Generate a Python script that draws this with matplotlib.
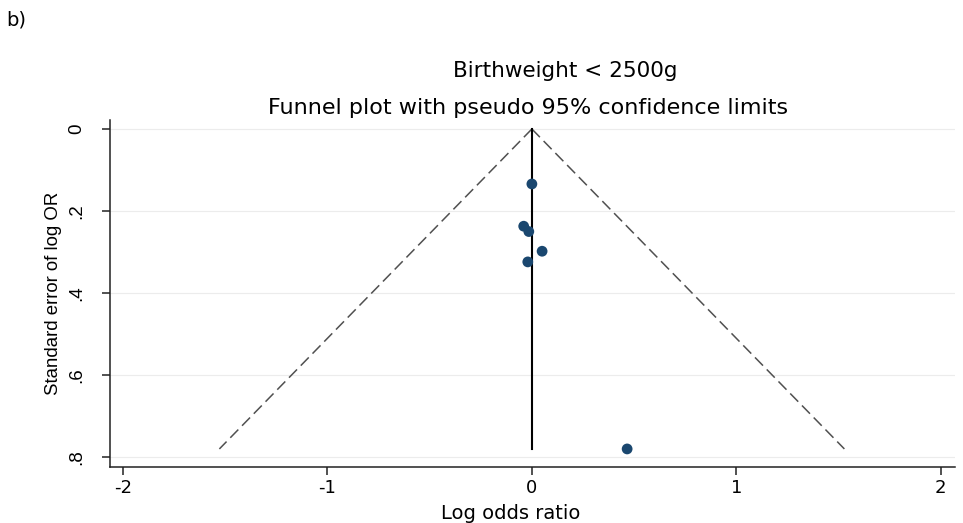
import matplotlib
matplotlib.use("Agg")
import matplotlib.pyplot as plt
import numpy as np

plt.rcParams['font.family'] = ['Liberation Sans', 'DejaVu Sans']

# Data
log_or = [0.0, -0.04, -0.015, 0.05, -0.02, 0.466]
se_log_or = [0.134, 0.237, 0.250, 0.298, 0.324, 0.78]
x_ticks = [-2, -1, 0, 1, 2]
x_tick_labels = ["-2", "-1", "0", "1", "2"]
y_ticks = [0, 0.2, 0.4, 0.6, 0.8]
y_tick_labels = ["0", ".2", ".4", ".6", ".8"]
pooled = 0.0
z95 = 1.96

wide = ['DejaVu Sans']

fig = plt.figure(figsize=(9.63, 5.23), dpi=100)
ax = fig.add_axes([0.1142, 0.1071, 0.8775, 0.6635])

se_max = max(se_log_or)
se_line = np.array([0.0, se_max])
ax.plot(pooled - z95 * se_line, se_line, linestyle=(0, (7.5, 3.5)), color='#505050', lw=1.1)
ax.plot(pooled + z95 * se_line, se_line, linestyle=(0, (7.5, 3.5)), color='#505050', lw=1.1)
ax.plot([pooled, pooled], [0, se_max], color='black', lw=1.5)

ax.scatter(log_or, se_log_or, s=60, color='#1a476f', zorder=3, edgecolors='none')

ax.set_xlim(-2.064, 2.07)
ax.set_ylim(0.824, -0.022)
ax.set_xticks(x_ticks)
ax.set_xticklabels(x_tick_labels, fontsize=13, family=wide)
ax.set_yticks(y_ticks)
ax.set_yticklabels(y_tick_labels, fontsize=13.5, rotation=90, va='center')
ax.yaxis.grid(True, color='#ececec', lw=0.8)
ax.set_axisbelow(True)
for s in ['top', 'right']:
    ax.spines[s].set_visible(False)
for s in ['left', 'bottom']:
    ax.spines[s].set_color('#222222')
    ax.spines[s].set_linewidth(1.1)
ax.tick_params(direction='out', length=6, width=1.1, color='#222222')
ax.tick_params(axis='x', pad=3)
ax.tick_params(axis='y', pad=12)

ax.set_xlabel("Log odds ratio", fontsize=14, family=wide, va='center')
ax.xaxis.set_label_coords(0.4746, -0.135)
ax.set_ylabel("Standard error of log OR", fontsize=13.4, labelpad=4)

fig.text(0.587, 0.864, "Birthweight < 2500g", fontsize=15.5, family=wide, ha='center', va='center')
fig.text(0.548, 0.7935, "Funnel plot with pseudo 95% confidence limits", fontsize=16, family=wide, ha='center', va='center')
fig.text(0.007, 0.962, "b)", fontsize=14, family=wide, ha='left', va='center')

fig.savefig("out.png", dpi=100)
